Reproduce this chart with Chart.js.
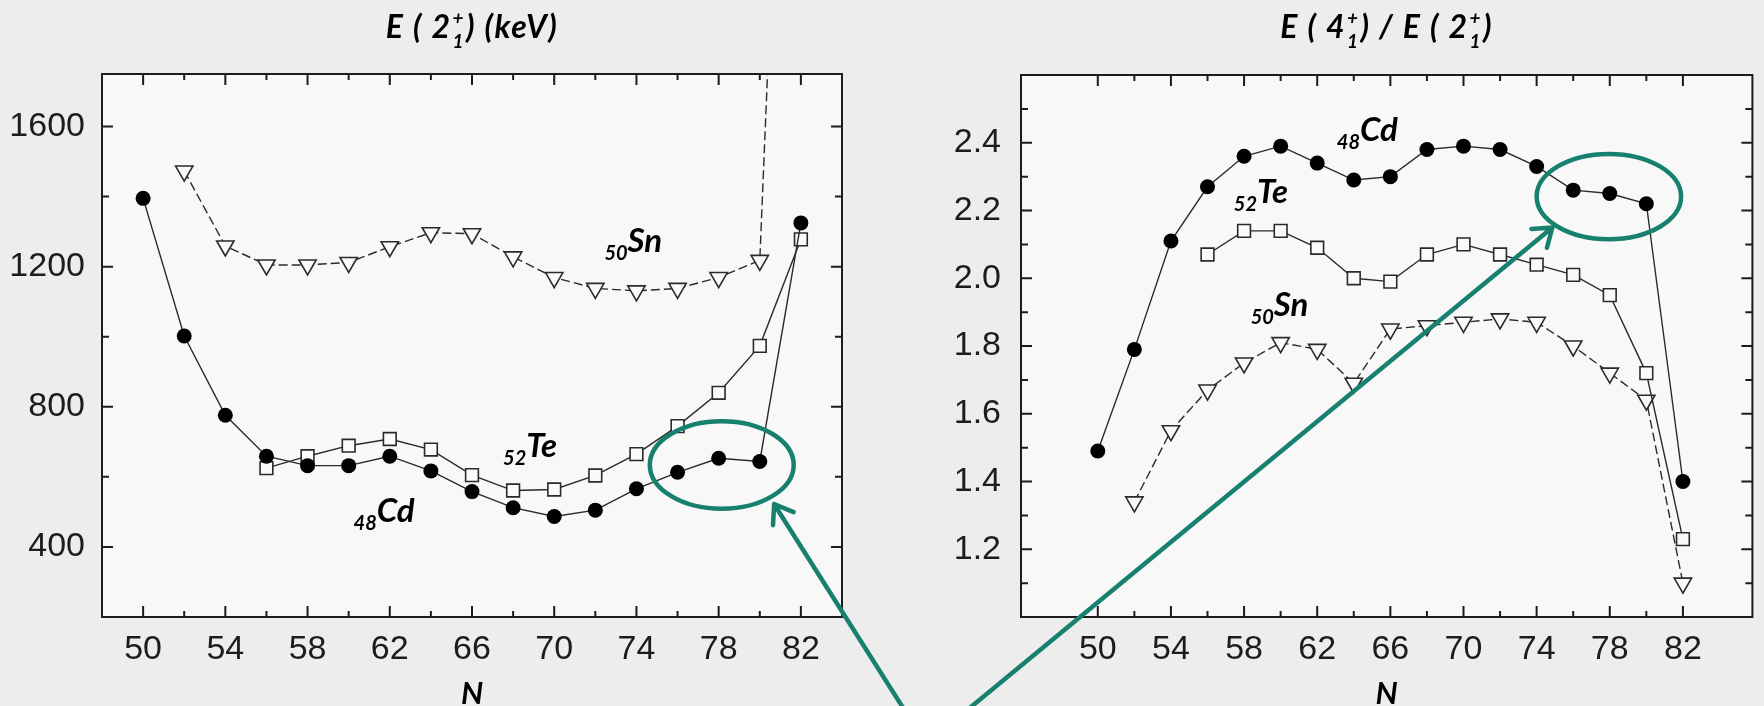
<!DOCTYPE html>
<html>
<head>
<meta charset="utf-8">
<script src="https://cdn.jsdelivr.net/npm/chart.js@4.4.0/dist/chart.umd.min.js"></script>
<style>
  html, body { margin: 0; padding: 0; background: #ededed; overflow: hidden; }
  #wrap { position: relative; width: 1764px; height: 706px; }
  canvas { position: absolute; top: 0; }
  #left { left: 0; }
  #right { left: 900px; }
  #overlay { left: 0; pointer-events: none; }
</style>
</head>
<body>
<div id="wrap">
  <canvas id="left" width="900" height="706"></canvas>
  <canvas id="right" width="864" height="706"></canvas>
  <canvas id="overlay" width="1764" height="706"></canvas>
</div>
<script>
// neutron number N
var neutrons = [50, 52, 54, 56, 58, 60, 62, 64, 66, 68, 70, 72, 74, 76, 78, 80, 82];

// E(2+1) in keV
var cdE2 = [1395, 1002, 776, 659, 632, 632, 659, 617, 558, 512, 487, 505, 566, 613, 653, 644, 1325];
var teE2 = [null, null, null, 625, 659, 689, 708, 678, 605, 561, 564, 604, 665, 745, 840, 974, 1278];
var snE2 = [null, 1473, 1259, 1205, 1205, 1212, 1257, 1297, 1294, 1228, 1169, 1138, 1131, 1138, 1169, 1218, 4041];

// E(4+1)/E(2+1)
var cdRatio = [1.49, 1.79, 2.11, 2.27, 2.36, 2.39, 2.34, 2.29, 2.30, 2.38, 2.39, 2.38, 2.33, 2.26, 2.25, 2.22, 1.40];
var teRatio = [null, null, null, 2.07, 2.14, 2.14, 2.09, 2.00, 1.99, 2.07, 2.10, 2.07, 2.04, 2.01, 1.95, 1.72, 1.23];
var snRatio = [null, 1.34, 1.55, 1.67, 1.75, 1.81, 1.79, 1.69, 1.85, 1.86, 1.87, 1.88, 1.87, 1.80, 1.72, 1.64, 1.10];

// ticks
var xTicks = [50, 54, 58, 62, 66, 70, 74, 78, 82];
var xMinor = [52, 56, 60, 64, 68, 72, 76, 80];
var e2Ticks = [400, 800, 1200, 1600];
var e2Minor = [600, 1000, 1400];
var ratioTicks = [1.2, 1.4, 1.6, 1.8, 2.0, 2.2, 2.4];
var ratioMinor = [1.1, 1.3, 1.5, 1.7, 1.9, 2.1, 2.3, 2.5];

var INK = '#1c1c1c';
var TEAL = '#17806f';
var TITLE_FONT = 'Lato';

Chart.defaults.font.family = '"Liberation Sans Narrow", "Liberation Sans"';
Chart.defaults.color = INK;

function pairs(arr) {
  return neutrons.map(function (n, i) { return { x: n, y: arr[i] }; })
    .filter(function (p) { return p.y !== null; });
}

function series(arr, style) {
  var ds = {
    data: pairs(arr),
    borderColor: '#2a2a2a',
    borderWidth: 1.4,
    tension: 0,
    pointBorderColor: '#2a2a2a',
    pointBorderWidth: 1.6,
    pointBackgroundColor: '#fafafa'
  };
  if (style === 'circle') {
    ds.pointStyle = 'circle';
    ds.pointRadius = 7.5;
    ds.pointBackgroundColor = '#000';
    ds.pointBorderColor = '#000';
    ds.pointBorderWidth = 0;
  } else if (style === 'rect') {
    ds.pointStyle = 'rect';
    ds.pointRadius = 9;
  } else {
    ds.pointStyle = 'triangle';
    ds.pointRotation = 180;
    ds.pointRadius = 10;
    ds.borderDash = [9, 4];
  }
  return ds;
}

// title with stacked sup/sub parts
function drawRich(ctx, parts, cx, baseline, size) {
  var big = 'italic bold ' + size + 'px ' + TITLE_FONT;
  var small = 'italic bold ' + Math.round(size * 0.6) + 'px ' + TITLE_FONT;
  ctx.letterSpacing = '1.5px';
  var widths = parts.map(function (p) {
    if (p.t !== undefined) { ctx.font = big; return ctx.measureText(p.t).width; }
    ctx.font = small;
    return Math.max(ctx.measureText(p.sup).width, ctx.measureText(p.sub).width) + 2;
  });
  var total = widths.reduce(function (a, b) { return a + b; }, 0);
  var x = cx - total / 2;
  ctx.fillStyle = '#000';
  ctx.textBaseline = 'alphabetic';
  ctx.textAlign = 'left';
  parts.forEach(function (p, i) {
    if (p.t !== undefined) {
      ctx.font = big;
      ctx.fillText(p.t, x, baseline);
    } else {
      ctx.font = small;
      ctx.fillText(p.sup, x + 1, baseline - size * 0.42);
      ctx.fillText(p.sub, x + 1, baseline + size * 0.3);
    }
    x += widths[i];
  });
  ctx.letterSpacing = '0px';
}

function drawIsotope(ctx, x, baseline, num, sym) {
  ctx.fillStyle = '#000';
  ctx.textAlign = 'left';
  ctx.textBaseline = 'alphabetic';
  ctx.font = 'italic bold 20px ' + TITLE_FONT;
  ctx.fillText(num, x, baseline + 8);
  var w = ctx.measureText(num).width;
  ctx.font = 'italic bold 33px ' + TITLE_FONT;
  ctx.fillText(sym, x + w, baseline);
}

function framePlugin(cfg) {
  return {
    id: 'frame',
    beforeDraw: function (chart) {
      var a = chart.chartArea, ctx = chart.ctx;
      ctx.save();
      ctx.fillStyle = '#f8f8f8';
      ctx.fillRect(a.left, a.top, a.right - a.left, a.bottom - a.top);
      ctx.restore();
    },
    afterDraw: function (chart) {
      var a = chart.chartArea, ctx = chart.ctx;
      var sx = chart.scales.x, sy = chart.scales.y;
      ctx.save();
      ctx.strokeStyle = INK;
      ctx.lineWidth = 2;
      ctx.beginPath();
      function xt(v, len) {
        var p = sx.getPixelForValue(v);
        ctx.moveTo(p, a.bottom); ctx.lineTo(p, a.bottom - len);
        ctx.moveTo(p, a.top); ctx.lineTo(p, a.top + len);
      }
      function yt(v, len) {
        var p = sy.getPixelForValue(v);
        ctx.moveTo(a.left, p); ctx.lineTo(a.left + len, p);
        ctx.moveTo(a.right, p); ctx.lineTo(a.right - len, p);
      }
      xTicks.forEach(function (v) { xt(v, 11); });
      xMinor.forEach(function (v) { xt(v, 6); });
      cfg.yMajor.forEach(function (v) { yt(v, 11); });
      cfg.yMinor.forEach(function (v) { yt(v, 7); });
      ctx.stroke();
      ctx.strokeRect(a.left, a.top, a.right - a.left, a.bottom - a.top);

      var cx = (a.left + a.right) / 2;
      drawRich(ctx, cfg.title, cx, 38, 32);
      ctx.font = 'italic bold 31px ' + TITLE_FONT;
      ctx.textAlign = 'center';
      ctx.fillText('N', cx, 704);
      cfg.labels.forEach(function (l) {
        drawIsotope(ctx, sx.getPixelForValue(l.x), sy.getPixelForValue(l.y), l.num, l.sym);
      });
      ctx.restore();
    }
  };
}

function makeChart(id, opts) {
  return new Chart(document.getElementById(id), {
    type: 'line',
    data: {
      datasets: [series(opts.cd, 'circle'), series(opts.te, 'rect'), series(opts.sn, 'tri')]
    },
    options: {
      responsive: false,
      animation: false,
      layout: { padding: { top: opts.top, right: opts.right, left: 0, bottom: 0 } },
      plugins: { legend: { display: false }, tooltip: { enabled: false } },
      scales: {
        x: {
          type: 'linear', min: opts.xMin, max: opts.xMax,
          grid: { display: false, drawTicks: false },
          border: { display: false },
          afterBuildTicks: function (s) { s.ticks = xTicks.map(function (v) { return { value: v }; }); },
          afterFit: function (s) { s.height = 706 - 617; },
          ticks: { padding: 12, font: { size: 34 }, color: INK, maxRotation: 0, autoSkip: false }
        },
        y: {
          type: 'linear', min: opts.yMin, max: opts.yMax,
          grid: { display: false, drawTicks: false },
          border: { display: false },
          afterBuildTicks: function (s) { s.ticks = opts.yMajor.map(function (v) { return { value: v }; }); },
          afterFit: function (s) { s.width = opts.axisWidth; },
          ticks: { padding: opts.yPad, font: { size: 34 }, color: INK, callback: opts.fmt }
        }
      }
    },
    plugins: [framePlugin(opts)]
  });
}

var leftChart = makeChart('left', {
  cd: cdE2, te: teE2, sn: snE2,
  xMin: 48, xMax: 84, yMin: 200, yMax: 1750,
  yMajor: e2Ticks, yMinor: e2Minor,
  top: 74, right: 58, axisWidth: 102, yPad: 17,
  fmt: function (v) { return String(v); },
  title: [{ t: 'E ( 2' }, { sup: '+', sub: '1' }, { t: ') (keV)' }],
  labels: [
    { x: 72.44, y: 1241, num: '50', sym: 'Sn' },
    { x: 67.51, y: 656, num: '52', sym: 'Te' },
    { x: 60.24, y: 471, num: '48', sym: 'Cd' }
  ]
});

var rightChart = makeChart('right', {
  cd: cdRatio, te: teRatio, sn: snRatio,
  xMin: 45.8, xMax: 85.8, yMin: 1.0, yMax: 2.6,
  yMajor: ratioTicks, yMinor: ratioMinor,
  top: 75, right: 4, axisWidth: 121, yPad: 20,
  fmt: function (v) { return v.toFixed(1); },
  title: [{ t: 'E ( 4' }, { sup: '+', sub: '1' }, { t: ') / E ( 2' }, { sup: '+', sub: '1' }, { t: ')' }],
  labels: [
    { x: 63.07, y: 2.406, num: '48', sym: 'Cd' },
    { x: 57.44, y: 2.221, num: '52', sym: 'Te' },
    { x: 58.36, y: 1.888, num: '50', sym: 'Sn' }
  ]
});

// highlight rings and arrows, placed with each chart's own scales
var rings = [
  { chart: leftChart, off: 0, x: 78.15, y: 634, rx: 3.5, ry: 125 },
  { chart: rightChart, off: 900, x: 77.95, y: 2.241, rx: 3.95, ry: 0.126 }
];
var arrows = [
  { chart: leftChart, off: 0, from: [87.3, -90], to: [80.7, 522] },
  { chart: rightChart, off: 900, from: [42.29, 0.70], to: [74.86, 2.15] }
];

function toPage(c, off, x, y) {
  return [off + c.scales.x.getPixelForValue(x), c.scales.y.getPixelForValue(y)];
}

var ov = document.getElementById('overlay').getContext('2d');
ov.strokeStyle = TEAL;
ov.lineWidth = 4.5;
ov.lineCap = 'round';
ov.lineJoin = 'round';
rings.forEach(function (r) {
  var c = toPage(r.chart, r.off, r.x, r.y);
  var e = toPage(r.chart, r.off, r.x + r.rx, r.y + r.ry);
  ov.beginPath();
  ov.ellipse(c[0], c[1], Math.abs(e[0] - c[0]), Math.abs(e[1] - c[1]), 0, 0, Math.PI * 2);
  ov.stroke();
});
arrows.forEach(function (a) {
  var p0 = toPage(a.chart, a.off, a.from[0], a.from[1]);
  var p1 = toPage(a.chart, a.off, a.to[0], a.to[1]);
  var ang = Math.atan2(p0[1] - p1[1], p0[0] - p1[0]);
  var len = 21, spread = 0.62;
  ov.beginPath();
  ov.moveTo(p0[0], p0[1]);
  ov.lineTo(p1[0], p1[1]);
  ov.moveTo(p1[0] + Math.cos(ang - spread) * len, p1[1] + Math.sin(ang - spread) * len);
  ov.lineTo(p1[0], p1[1]);
  ov.lineTo(p1[0] + Math.cos(ang + spread) * len, p1[1] + Math.sin(ang + spread) * len);
  ov.stroke();
});
</script>
</body>
</html>
